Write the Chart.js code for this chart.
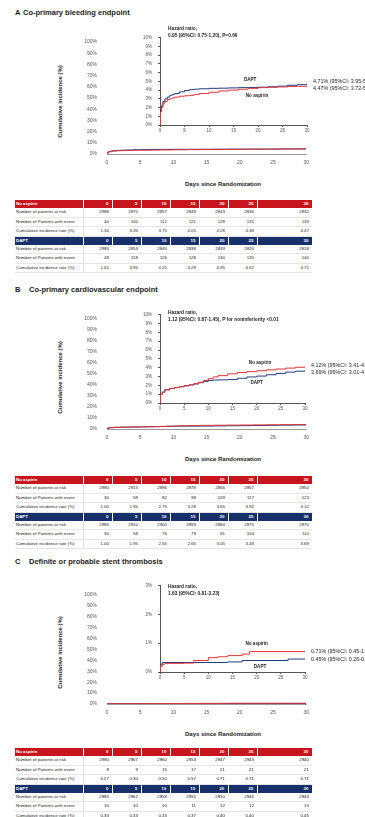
<!DOCTYPE html>
<html>
<head>
<meta charset="utf-8">
<script src="https://cdn.jsdelivr.net/npm/chart.js@4.4.1/dist/chart.umd.min.js"></script>
<style>
body { margin: 0; width: 365px; height: 817px; position: relative; overflow: hidden; background: #fff; font-family: "Liberation Sans", Arial, sans-serif; color: #222; }
.abs { position: absolute; white-space: nowrap; }
.ptitle { font-weight: bold; font-size: 7.5px; line-height: 8px; }
.axtitle { font-weight: bold; font-size: 6px; line-height: 7px; text-align: center; }
.hr { font-weight: bold; font-size: 4.8px; line-height: 6px; }
canvas { position: absolute; }
table.risk { position: absolute; left: 15px; width: 297px; border-collapse: collapse; table-layout: fixed; font-size: 4.4px; }
table.risk td { height: 8.4px; padding: 0 3px 0 1px; line-height: 8.4px; text-align: right; border-bottom: 1px solid #e4e4e4; overflow: hidden; white-space: nowrap; }
table.risk td:first-child { text-align: left; border-right: 1px solid #ddd; }
table.risk tr.head td { color: #fff; font-weight: bold; border-bottom: none; border-right: 1px solid rgba(255,255,255,0.4); }
table.risk tr.red td { background: #c8151d; }
table.risk tr.blue td { background: #17306a; }
</style>
</head>
<body>
<script>
// column days shared by the risk tables
const tableDays = [0, 5, 10, 15, 20, 25, 30];

// A: co-primary bleeding endpoint (cumulative incidence, %)
const bleedNoAspirinDays = [0, 0.1, 0.3, 0.6, 1, 1.5, 2, 2.5, 3, 4, 5, 6, 7, 8, 10, 12, 14, 16, 18, 20, 22, 24, 26, 28, 30];
const bleedNoAspirinPct = [0, 1.5, 2.0, 2.5, 2.7, 2.9, 3.0, 3.1, 3.2, 3.3, 3.35, 3.4, 3.5, 3.6, 3.75, 3.9, 4.0, 4.1, 4.2, 4.28, 4.32, 4.36, 4.4, 4.43, 4.47];
const bleedDaptDays = [0, 0.1, 0.3, 0.6, 1, 1.5, 2, 2.5, 3, 4, 5, 6, 7, 8, 10, 12, 14, 16, 18, 20, 22, 24, 26, 28, 30];
const bleedDaptPct = [0, 1.7, 2.2, 2.7, 3.0, 3.2, 3.4, 3.5, 3.6, 3.8, 3.95, 4.05, 4.1, 4.15, 4.2, 4.22, 4.25, 4.28, 4.3, 4.33, 4.38, 4.45, 4.55, 4.62, 4.71];
const bleedHazard = ['Hazard ratio,', '0.95 (95%CI: 0.75-1.20), P=0.66'];
const bleedEndCI = ['3.72-5.37', '3.95-5.61'];
const bleedNoAspirinRisk = [2988, 2870, 2857, 2849, 2843, 2836, 2832];
const bleedNoAspirinEvents = [40, 100, 112, 121, 128, 131, 133];
const bleedNoAspirinRate = [1.34, 3.35, 3.75, 4.05, 4.28, 4.38, 4.47];
const bleedDaptRisk = [2985, 2853, 2845, 2838, 2833, 2826, 2818];
const bleedDaptEvents = [48, 118, 126, 128, 130, 135, 140];
const bleedDaptRate = [1.61, 3.95, 4.22, 4.29, 4.35, 4.52, 4.71];

// B: co-primary cardiovascular endpoint
const cvNoAspirinDays = [0, 0.1, 0.5, 1, 2, 3, 4, 5, 6, 7, 8, 9, 10, 11, 12, 14, 16, 18, 20, 22, 24, 26, 28, 30];
const cvNoAspirinPct = [0, 1.0, 1.2, 1.5, 1.65, 1.75, 1.85, 1.95, 2.05, 2.2, 2.35, 2.55, 2.75, 2.95, 3.1, 3.3, 3.45, 3.55, 3.65, 3.75, 3.85, 3.95, 4.05, 4.12];
const cvDaptDays = [0, 0.1, 0.5, 1, 2, 3, 4, 5, 6, 7, 8, 9, 10, 11, 12, 14, 16, 18, 20, 22, 24, 26, 28, 30];
const cvDaptPct = [0, 1.0, 1.25, 1.5, 1.65, 1.75, 1.85, 1.95, 2.05, 2.15, 2.3, 2.45, 2.55, 2.6, 2.62, 2.65, 2.8, 2.95, 3.05, 3.2, 3.35, 3.5, 3.6, 3.69];
const cvHazard = ['Hazard ratio,', '1.12 (95%CI: 0.87-1.45), P for noninferiority <0.01'];
const cvEndCI = ['3.41-4.97', '3.01-4.51'];
const cvNoAspirinRisk = [2990, 2915, 2896, 2878, 2866, 2857, 2850];
const cvNoAspirinEvents = [30, 58, 82, 98, 109, 117, 123];
const cvNoAspirinRate = [1.00, 1.95, 2.75, 3.28, 3.65, 3.92, 4.12];
const cvDaptRisk = [2985, 2910, 2900, 2893, 2884, 2875, 2870];
const cvDaptEvents = [30, 58, 76, 79, 91, 104, 110];
const cvDaptRate = [1.00, 1.95, 2.55, 2.65, 3.05, 3.49, 3.69];

// C: definite or probable stent thrombosis
const stNoAspirinDays = [0, 0.1, 0.5, 1, 5, 7, 10, 12, 14, 17, 18.5, 30];
const stNoAspirinPct = [0, 0.2, 0.27, 0.3, 0.31, 0.4, 0.5, 0.53, 0.57, 0.62, 0.71, 0.71];
const stDaptDays = [0, 0.1, 0.5, 12, 14, 17, 26.5, 30];
const stDaptPct = [0, 0.27, 0.33, 0.33, 0.35, 0.4, 0.45, 0.45];
const stHazard = ['Hazard ratio,', '1.63 (95%CI: 0.81-3.23)'];
const stEndCI = ['0.45-1.09', '0.26-0.77'];
const stNoAspirinRisk = [2990, 2967, 2960, 2953, 2947, 2943, 2940];
const stNoAspirinEvents = [8, 9, 15, 17, 21, 21, 21];
const stNoAspirinRate = [0.27, 0.30, 0.50, 0.57, 0.71, 0.71, 0.71];
const stDaptRisk = [2985, 2962, 2958, 2955, 2950, 2946, 2943];
const stDaptEvents = [10, 10, 10, 11, 12, 12, 13];
const stDaptRate = [0.33, 0.33, 0.33, 0.37, 0.40, 0.40, 0.45];

const redColor = '#e3343a';
const blueColor = '#223c7a';
const fontFamily = '"Liberation Sans", Arial, sans-serif';

const panels = [
    {
        letter: 'A', title: 'Co-primary bleeding endpoint', titleY: 9, textX: 23,
        noAsp: [bleedNoAspirinDays, bleedNoAspirinPct], dapt: [bleedDaptDays, bleedDaptPct],
        hazard: bleedHazard, endCI: bleedEndCI, insetMax: 10,
        noAspRows: [bleedNoAspirinRisk, bleedNoAspirinEvents, bleedNoAspirinRate],
        daptRows: [bleedDaptRisk, bleedDaptEvents, bleedDaptRate],
        mainTop: 35, mainBottom: 155, mainRight: 308,
        insetTop: 35, insetBottom: 125, insetRight: 307, hrTop: 26,
        names: [{ text: 'DAPT', day: 18.4, pct: 5.2 }, { text: 'No aspirin', day: 19.8, pct: 3.3 }],
        tableTop: 200
    },
    {
        letter: 'B', title: 'Co-primary cardiovascular endpoint', titleY: 286, textX: 29,
        noAsp: [cvNoAspirinDays, cvNoAspirinPct], dapt: [cvDaptDays, cvDaptPct],
        hazard: cvHazard, endCI: cvEndCI, insetMax: 10,
        noAspRows: [cvNoAspirinRisk, cvNoAspirinEvents, cvNoAspirinRate],
        daptRows: [cvDaptRisk, cvDaptEvents, cvDaptRate],
        mainTop: 312, mainBottom: 430, mainRight: 307,
        insetTop: 312, insetBottom: 403, insetRight: 305, hrTop: 310,
        names: [{ text: 'No aspirin', day: 20.7, pct: 4.55 }, { text: 'DAPT', day: 20, pct: 2.35 }],
        tableTop: 476
    },
    {
        letter: 'C', title: 'Definite or probable stent thrombosis', titleY: 558, textX: 29,
        noAsp: [stNoAspirinDays, stNoAspirinPct], dapt: [stDaptDays, stDaptPct],
        hazard: stHazard, endCI: stEndCI, insetMax: 3,
        noAspRows: [stNoAspirinRisk, stNoAspirinEvents, stNoAspirinRate],
        daptRows: [stDaptRisk, stDaptEvents, stDaptRate],
        mainTop: 588, mainBottom: 705, mainRight: 308,
        insetTop: 583, insetBottom: 672, insetRight: 305, hrTop: 584,
        names: [{ text: 'No aspirin', day: 20, pct: 0.97 }, { text: 'DAPT', day: 20.7, pct: 0.18 }],
        tableTop: 748
    }
];

const rowLabels = ['Number of patients at risk', 'Number of Patients with event', 'Cumulative incidence rate (%)'];

addText = (cls, text, left, top, extra) => {
    let el = document.createElement('div');
    el.className = 'abs ' + cls;
    el.textContent = text;
    el.style.left = left + 'px';
    el.style.top = top + 'px';
    if (extra) Object.assign(el.style, extra);
    document.body.appendChild(el);
    return el;
}

makeCanvas = (left, top, w, h) => {
    let cv = document.createElement('canvas');
    cv.width = w;
    cv.height = h;
    cv.style.left = left + 'px';
    cv.style.top = top + 'px';
    cv.style.width = w + 'px';
    cv.style.height = h + 'px';
    document.body.appendChild(cv);
    return cv;
}

series = (pair, label, color) => ({
    label: label,
    data: pair[0].map((d, i) => ({ x: d, y: pair[1][i] })),
    borderColor: color,
    borderWidth: 1,
    pointRadius: 0,
    stepped: true,
    fill: false
});

// curve names and end-of-follow-up labels on the inset
const insetLabels = {
    id: 'insetLabels',
    afterDatasetsDraw(chart, args, opts) {
        const { ctx, chartArea, scales } = chart;
        ctx.save();
        ctx.fillStyle = '#222';
        ctx.textBaseline = 'middle';
        ctx.textAlign = 'center';
        ctx.font = 'bold 4.6px ' + fontFamily;
        opts.names.forEach(n => ctx.fillText(n.text, scales.x.getPixelForValue(n.day), scales.y.getPixelForValue(n.pct)));

        let ends = chart.data.datasets.map((ds, i) => {
            let last = ds.data[ds.data.length - 1].y;
            return { y: scales.y.getPixelForValue(last), text: last.toFixed(2) + '% (95%CI: ' + opts.endCI[i] + ')' };
        });
        ends.sort((a, b) => a.y - b.y);
        if (ends[1].y - ends[0].y < 7) {
            let mid = (ends[0].y + ends[1].y) / 2;
            ends[0].y = mid - 3.5;
            ends[1].y = mid + 3.5;
        }
        ctx.textAlign = 'left';
        ctx.font = '5.4px ' + fontFamily;
        ends.forEach(e => ctx.fillText(e.text, chartArea.right + 6, e.y));
        ctx.restore();
    }
};

drawMain = (p) => {
    let top = p.mainTop - 6;
    let cv = makeCanvas(70, top, 245, p.mainBottom - top + 12);
    new Chart(cv, {
        type: 'line',
        data: { datasets: [series(p.noAsp, 'No aspirin', redColor), series(p.dapt, 'DAPT', blueColor)] },
        options: {
            responsive: false,
            animation: false,
            devicePixelRatio: 1,
            layout: { padding: { top: 6, right: 315 - p.mainRight, left: 0, bottom: 0 } },
            plugins: { legend: { display: false }, tooltip: { enabled: false } },
            scales: {
                x: {
                    type: 'linear', min: 0, max: 30,
                    ticks: { stepSize: 5, font: { size: 5, family: fontFamily }, color: '#555', padding: 6 },
                    grid: { display: false, drawTicks: false },
                    border: { display: true, color: '#9a9a9a', width: 1 },
                    afterFit: s => { s.height = 12; }
                },
                y: {
                    min: 0, max: 100,
                    ticks: { stepSize: 10, callback: v => v + '%', font: { size: 5, family: fontFamily }, color: '#555', padding: 10 },
                    grid: { display: false, drawTicks: false },
                    border: { display: false },
                    afterFit: s => { s.width = 37; }
                }
            }
        }
    });
}

drawInset = (p) => {
    let top = p.insetTop - 6;
    let cv = makeCanvas(120, top, 245, p.insetBottom - top + 10);
    let axisGrid = { display: true, drawOnChartArea: false, drawTicks: true, tickLength: 2, color: '#555' };
    new Chart(cv, {
        type: 'line',
        data: { datasets: [series(p.noAsp, 'No aspirin', redColor), series(p.dapt, 'DAPT', blueColor)] },
        options: {
            responsive: false,
            animation: false,
            devicePixelRatio: 1,
            layout: { padding: { top: 6, right: 365 - p.insetRight, left: 0, bottom: 0 } },
            plugins: {
                legend: { display: false },
                tooltip: { enabled: false },
                insetLabels: { names: p.names, endCI: p.endCI }
            },
            scales: {
                x: {
                    type: 'linear', min: 0, max: 30,
                    ticks: { stepSize: 5, font: { size: 4.5, family: fontFamily }, color: '#555', padding: 1.5 },
                    grid: axisGrid,
                    border: { display: true, color: '#555', width: 1 },
                    afterFit: s => { s.height = 10; }
                },
                y: {
                    min: 0, max: p.insetMax,
                    ticks: { stepSize: 1, callback: v => v + '%', font: { size: 4.5, family: fontFamily }, color: '#555', padding: 6 },
                    grid: axisGrid,
                    border: { display: true, color: '#555', width: 1 },
                    afterFit: s => { s.width = 40; }
                }
            }
        },
        plugins: [insetLabels]
    });
}

addRow = (table, cells, cls) => {
    let tr = document.createElement('tr');
    if (cls) tr.className = cls;
    cells.forEach(c => {
        let td = document.createElement('td');
        td.textContent = c;
        tr.appendChild(td);
    });
    table.appendChild(tr);
}

createTable = (p) => {
    let table = document.createElement('table');
    table.className = 'risk';
    table.style.top = p.tableTop + 'px';
    let cols = document.createElement('colgroup');
    [68, 29, 29, 29, 29, 29, 29, 55].forEach(w => {
        let col = document.createElement('col');
        col.style.width = w + 'px';
        cols.appendChild(col);
    });
    table.appendChild(cols);

    [['No aspirin', 'head red', p.noAspRows], ['DAPT', 'head blue', p.daptRows]].forEach(group => {
        addRow(table, [group[0]].concat(tableDays), group[1]);
        group[2].forEach((vals, r) => {
            let shown = r === 2 ? vals.map(v => v.toFixed(2)) : vals;
            addRow(table, [rowLabels[r]].concat(shown));
        });
    });
    document.body.appendChild(table);
}

panels.forEach(p => {
    addText('ptitle', p.letter, 15, p.titleY);
    addText('ptitle', p.title, p.textX, p.titleY);

    drawMain(p);
    drawInset(p);

    let yMid = (p.mainTop + p.mainBottom) / 2 + 6;
    addText('axtitle', 'Cumulative incidence (%)', 0, yMid - 3.5, { width: '120px', transform: 'rotate(-90deg)' });
    addText('axtitle', 'Days since Randomization', 143, p.mainBottom + 26, { width: '160px' });

    addText('hr', p.hazard[0], 168, p.hrTop);
    addText('hr', p.hazard[1], 168, p.hrTop + 7);

    createTable(p);
});
</script>
</body>
</html>
